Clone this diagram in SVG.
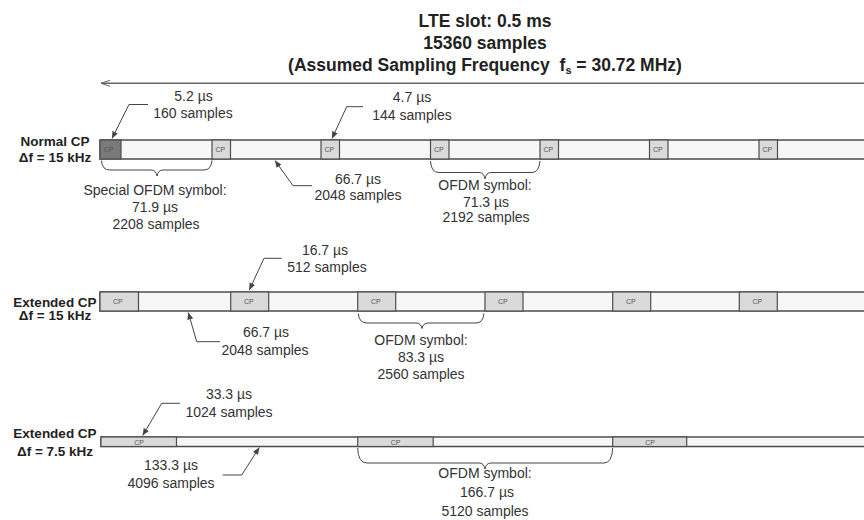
<svg xmlns="http://www.w3.org/2000/svg" width="864" height="520" viewBox="0 0 864 520">
<style>
.title{font-family:"Liberation Sans",Arial,sans-serif;font-weight:bold;font-size:17.5px;fill:#222;text-anchor:middle}
.lab{font-family:"Liberation Sans",Arial,sans-serif;font-weight:bold;font-size:13.5px;fill:#222;text-anchor:middle}
.t{font-family:"Liberation Sans",Arial,sans-serif;font-size:14px;fill:#333;text-anchor:middle}
.cpt{font-family:"Liberation Sans",Arial,sans-serif;font-size:7px;fill:#555}
.bar{fill:#f7f7f7;stroke:#4d4d4d;stroke-width:1.5}
.cp{fill:#dadada;stroke:#4d4d4d;stroke-width:1.2}
.cpd{fill:#7a7a7a;stroke:#4d4d4d;stroke-width:1.2}
.ld{fill:none;stroke:#444;stroke-width:1}
.br{fill:none;stroke:#444;stroke-width:1}
</style>
<defs>
<marker id="ah" markerWidth="8" markerHeight="6" refX="7" refY="3" orient="auto-start-reverse" markerUnits="userSpaceOnUse">
<path d="M0,0 L7,3 L0,6 Z" fill="#444"/>
</marker>
<marker id="oa" markerWidth="10" markerHeight="8" refX="9" refY="4" orient="auto-start-reverse" markerUnits="userSpaceOnUse">
<path d="M0,1 L9,4 L0,7" fill="none" stroke="#666" stroke-width="1"/>
</marker>
</defs>
<rect width="864" height="520" fill="#fff"/>

<g id="title">
<text class="title" x="485" y="27">LTE slot: 0.5 ms</text>
<text class="title" x="485" y="49">15360 samples</text>
<text class="title" x="485" y="71">(Assumed Sampling Frequency <tspan dx="5">f</tspan><tspan font-size="11" dy="3">s</tspan><tspan dy="-3"> = 30.72 MHz)</tspan></text>
</g>

<g id="row1">
<text class="lab" x="55" y="145.5">Normal CP</text>
<text class="lab" x="55" y="162">Δf = 15 kHz</text>
<rect class="bar" x="100" y="140" width="770" height="19"/>
<rect class="cpd" x="100" y="140" width="21" height="19"/>
<rect class="cp" x="212" y="140" width="18.5" height="19"/>
<rect class="cp" x="321" y="140" width="18.5" height="19"/>
<rect class="cp" x="430.5" y="140" width="18.5" height="19"/>
<rect class="cp" x="540" y="140" width="18.5" height="19"/>
<rect class="cp" x="649.5" y="140" width="18.5" height="19"/>
<rect class="cp" x="759" y="140" width="18.5" height="19"/>
<text class="cpt" x="104" y="152">CP</text>
<text class="cpt" x="215.5" y="152">CP</text>
<text class="cpt" x="324.5" y="152">CP</text>
<text class="cpt" x="434" y="152">CP</text>
<text class="cpt" x="543.5" y="152">CP</text>
<text class="cpt" x="653" y="152">CP</text>
<text class="cpt" x="762.5" y="152">CP</text>
</g>

<g id="row2">
<text class="lab" x="55" y="306.5">Extended CP</text>
<text class="lab" x="55" y="320">Δf = 15 kHz</text>
<rect class="bar" x="100" y="292" width="770" height="19"/>
<rect class="cp" x="100" y="292" width="38.5" height="19"/>
<rect class="cp" x="230.7" y="292" width="38" height="19"/>
<rect class="cp" x="357.7" y="292" width="38" height="19"/>
<rect class="cp" x="485" y="292" width="38" height="19"/>
<rect class="cp" x="612.7" y="292" width="38" height="19"/>
<rect class="cp" x="739.3" y="292" width="38" height="19"/>
<text class="cpt" x="113" y="304">CP</text>
<text class="cpt" x="244" y="304">CP</text>
<text class="cpt" x="371" y="304">CP</text>
<text class="cpt" x="498" y="304">CP</text>
<text class="cpt" x="626" y="304">CP</text>
<text class="cpt" x="752.5" y="304">CP</text>
</g>

<g id="row3">
<text class="lab" x="55" y="438">Extended CP</text>
<text class="lab" x="55" y="456">Δf = 7.5 kHz</text>
<rect class="bar" x="101" y="437" width="770" height="9.5"/>
<rect class="cp" x="101" y="437" width="75.5" height="9.5"/>
<rect class="cp" x="357.7" y="437" width="75.5" height="9.5"/>
<rect class="cp" x="612.7" y="437" width="74" height="9.5"/>
<text class="cpt" x="139" y="444.5" text-anchor="middle" font-size="6">CP</text>
<text class="cpt" x="395.5" y="444.5" text-anchor="middle" font-size="6">CP</text>
<text class="cpt" x="650" y="444.5" text-anchor="middle" font-size="6">CP</text>
</g>

<g id="labels">
<text class="t" x="193.5" y="101">5.2 µs</text>
<text class="t" x="193" y="118">160 samples</text>
<text class="t" x="412" y="101.5">4.7 µs</text>
<text class="t" x="412" y="120">144 samples</text>
<text class="t" x="358" y="184">66.7 µs</text>
<text class="t" x="358" y="200">2048 samples</text>
<text class="t" x="155" y="195">Special OFDM symbol:</text>
<text class="t" x="155" y="212">71.9 µs</text>
<text class="t" x="156" y="229">2208 samples</text>
<text class="t" x="485" y="190">OFDM symbol:</text>
<text class="t" x="486" y="206.5">71.3 µs</text>
<text class="t" x="486" y="222">2192 samples</text>
<text class="t" x="325" y="255">16.7 µs</text>
<text class="t" x="327" y="271.7">512 samples</text>
<text class="t" x="266" y="336.7">66.7 µs</text>
<text class="t" x="265" y="355">2048 samples</text>
<text class="t" x="421" y="345">OFDM symbol:</text>
<text class="t" x="421" y="362">83.3 µs</text>
<text class="t" x="421" y="379">2560 samples</text>
<text class="t" x="229" y="399">33.3 µs</text>
<text class="t" x="229" y="416.7">1024 samples</text>
<text class="t" x="171" y="470">133.3 µs</text>
<text class="t" x="171" y="487.7">4096 samples</text>
<text class="t" x="485" y="478">OFDM symbol:</text>
<text class="t" x="487" y="497">166.7 µs</text>
<text class="t" x="485" y="516">5120 samples</text>
</g>

<g id="connectors">
<path d="M101,83.3 L864,83.3" fill="none" stroke="#666" stroke-width="1.5" marker-start="url(#oa)"/>
<path class="ld" d="M112,138.5 L129,104.5 L148,104.5" marker-start="url(#ah)"/>
<path class="ld" d="M332,138.5 L346.7,106.7 L363,106.7" marker-start="url(#ah)"/>
<path class="ld" d="M275,160.5 L293,185.7 L312,185.7" marker-start="url(#ah)"/>
<path class="ld" d="M249.3,290 L264,258.3 L281.7,258.3" marker-start="url(#ah)"/>
<path class="ld" d="M188.3,312.5 L196.7,341.7 L220,341.7" marker-start="url(#ah)"/>
<path class="ld" d="M142.7,435.5 L161.7,403.3 L180,403.3" marker-start="url(#ah)"/>
<path class="ld" d="M259.3,447.5 L241.7,475 L222.7,475" marker-start="url(#ah)"/>
<path class="br" d="M101.5,160.5 Q102,170 110,170 L151,170 Q156,170 157,176 Q158,170 163,170 L204,170 Q211,170 212,160.5"/>
<path class="br" d="M430.5,161 Q431,172.5 439,172.5 L479,172.5 Q484,172.5 485,179 Q486,172.5 491,172.5 L532,172.5 Q539,172.5 540,161"/>
<path class="br" d="M358.3,313.5 Q359,323 367,323 L416,323 Q421,323 422,328.5 Q423,323 428,323 L476,323 Q483,323 484,313.5"/>
<path class="br" d="M357.7,448 Q358,463 367,463 L479,463 Q484,463 485,469 Q486,463 491,463 L604,463 Q612,463 612.7,448"/>
</g>
</svg>
